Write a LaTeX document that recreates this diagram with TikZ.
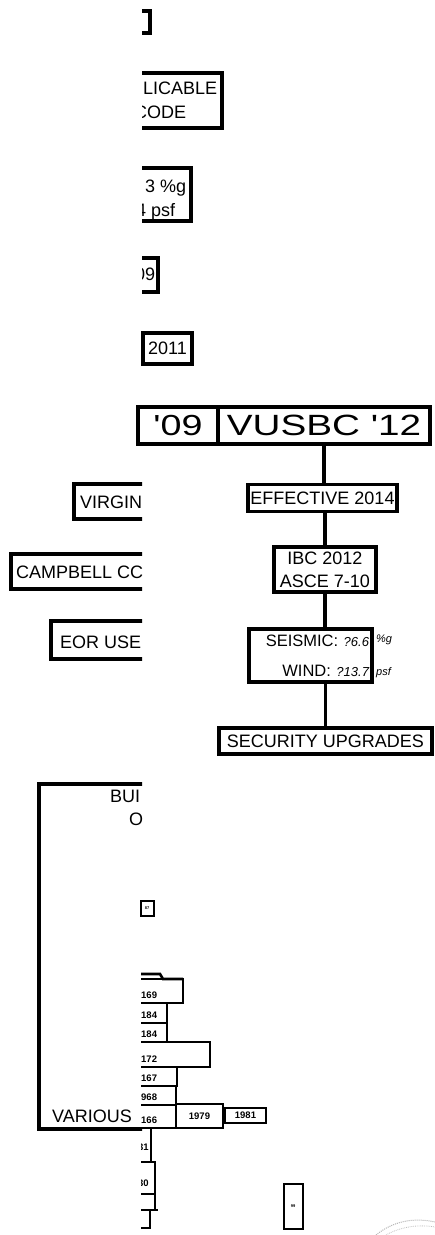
\documentclass[tikz,border=0pt]{standalone}
\usepackage{fontspec}
\setmainfont{Liberation Sans}
\usetikzlibrary{positioning}
\newcommand\hw[1]{{\itshape\fontsize{13}{13}\selectfont #1}}

\begin{document}
\begin{tikzpicture}[x=1pt,y=-1pt,
  codebox/.style={draw,line width=3.4pt,inner sep=0pt,outer sep=0pt,
    font=\fontsize{18}{23}\selectfont},
  link/.style={line width=3.2pt},
  frag/.style={line width=3.4pt},
  txt/.style={inner sep=0pt,anchor=base west,font=\fontsize{18}{22}\selectfont},
  yearbox/.style={line width=2.6pt},
  yeartxt/.style={inner sep=0pt,font=\bfseries\fontsize{9.5}{10}\selectfont},
  hand/.style={inner sep=0pt,font=\itshape\fontsize{11}{12}\selectfont}]
  \useasboundingbox (0,0) rectangle (435,1235);

  % cut-off boxes at the top
  \begin{scope}
    \clip (142,0) rectangle (435,400);
    \draw[frag] (130,11) -| (150,33) -- (130,33);
    \draw[frag] (130,73) -| (222,128) -- (130,128);
    \node[txt] (appl) at (143,94) {LICABLE};
    \node[txt] (code) at (134,118) {CODE};
    \draw[frag] (130,168) -| (191,221) -- (130,221);
    \node[txt] (sg) at (145,192) {3 \%g};
    \node[txt] (sp) at (136,216) {4 psf};
    \draw[frag] (130,258) -| (158,292) -- (130,292);
    \node[txt] (nine) at (135,280) {09};
  \end{scope}
  \node[codebox,minimum width=49,minimum height=31] (yr) at (167.5,348.5) {2011};

  % code chain
  \node[codebox,minimum width=80,minimum height=37] (old) at (178,425.5)
    {\scalebox{1.3}[1]{\fontsize{29}{30}\selectfont\textquotesingle 09}};
  \node[codebox,minimum width=212,minimum height=37,right=0pt of old] (vusbc)
    {\scalebox{1.32}[1]{\fontsize{29.3}{30}\selectfont VUSBC \textquotesingle 12}};
  \node[codebox,minimum width=149,minimum height=27] (eff) at (322.5,498) {EFFECTIVE 2014};
  \node[codebox,minimum width=102,minimum height=45,align=center] (ibc) at (325,569.5)
    {IBC 2012\\ASCE 7-10};
  \node[codebox,minimum width=123,minimum height=53,text width=117,align=right,
    font=\fontsize{16.5}{30}\selectfont] (seis) at (310.5,655.5)
    {SEISMIC: \hw{?6.6}\\WIND: \hw{?13.7}};
  \node[hand,anchor=west] (ug) at (376,640) {\%g};
  \node[hand,anchor=west] (up) at (376,673) {psf};
  \node[codebox,minimum width=213,minimum height=26] (sec) at (325.5,741) {SECURITY UPGRADES};

  \draw[link] (vusbc.south) -- (vusbc.south |- eff.north);
  \draw[link] (ibc.north) -- (ibc.north |- eff.south);
  \draw[link] (ibc.south) -- (ibc.south |- seis.north);
  \draw[link] (sec.north) -- (sec.north |- seis.south);

  % cut-off boxes on the left
  \begin{scope}
    \clip (0,450) rectangle (142,1235);
    \draw[frag] (160,484) -| (74,519) -- (160,519);
    \node[txt] (virg) at (80,508) {VIRGIN};
    \draw[frag] (160,554) -| (11,589) -- (160,589);
    \node[txt] (camp) at (16,578) {CAMPBELL CC};
    \draw[frag] (160,621) -| (51,659) -- (160,659);
    \node[txt] (eor) at (60,648) {EOR USE};
    \draw[frag,line width=4pt] (160,784) -| (39,1129) -- (160,1129);
    \node[txt] (bui) at (110,802) {BUI};
    \node[txt] (bui2) at (129,825) {O};
    \node[txt] (various) at (52,1122) {VARIOUS};
  \end{scope}

  % year stack
  \node[draw,line width=2pt,minimum width=13,minimum height=15,inner sep=0pt,
    font=\bfseries\fontsize{4}{4}\selectfont] (tiny) at (147,908) {87};
  \begin{scope}
    \clip (141,900) rectangle (435,1235);
    \draw[yearbox] (130,974) -- (160,974) -- (163,979) -- (183,979);
    \foreach \t/\b/\r/\yr [count=\i] in {979/1003/183/169,1003/1023/167/184,
        1023/1042/167/184,1042/1067/210/172,1067/1086/177/167,
        1086/1105/176/968,1105/1128/176/166} {
      \draw[yearbox] (130,\t) rectangle (\r,\b);
      \node[yeartxt,anchor=base west] (yr\i) at (141,\b-5) {\yr};
    }
    \node[txt,font=\bfseries\fontsize{9.5}{10}\selectfont] (y31) at (138,1150) {31};
    \draw[yearbox] (151,1128) -- (151,1162);
    \draw[yearbox] (130,1162) rectangle (155,1210);
    \draw[yearbox] (130,1194) -- (155,1194);
    \draw[yearbox] (130,1210) -- (158,1210);
    \draw[yearbox] (150,1210) |- (130,1228);
    \node[txt,font=\bfseries\fontsize{9.5}{10}\selectfont] (y30) at (138,1186) {30};
  \end{scope}
  \node[draw,yearbox,minimum width=47,minimum height=24,inner sep=0pt,outer sep=0pt,
    font=\bfseries\fontsize{9.5}{10}\selectfont] (y79) at (199.5,1116) {1979};
  \node[draw,yearbox,minimum width=41,minimum height=15,inner sep=0pt,outer sep=0pt,
    font=\bfseries\fontsize{9.5}{10}\selectfont] (y81) at (245.5,1115.5) {1981};
  \node[draw,line width=2pt,minimum width=19,minimum height=45,inner sep=0pt,
    font=\bfseries\fontsize{4}{4}\selectfont] (box99) at (293,1206) {99};

  % seal fragment
  \draw[gray!60,line width=1pt,densely dotted] (376,1235) .. controls (392,1222) and (412,1217) .. (435,1222);
  \draw[gray!50,line width=0.8pt,densely dotted] (386,1235) .. controls (400,1227) and (418,1224) .. (435,1227);
\end{tikzpicture}
\end{document}
